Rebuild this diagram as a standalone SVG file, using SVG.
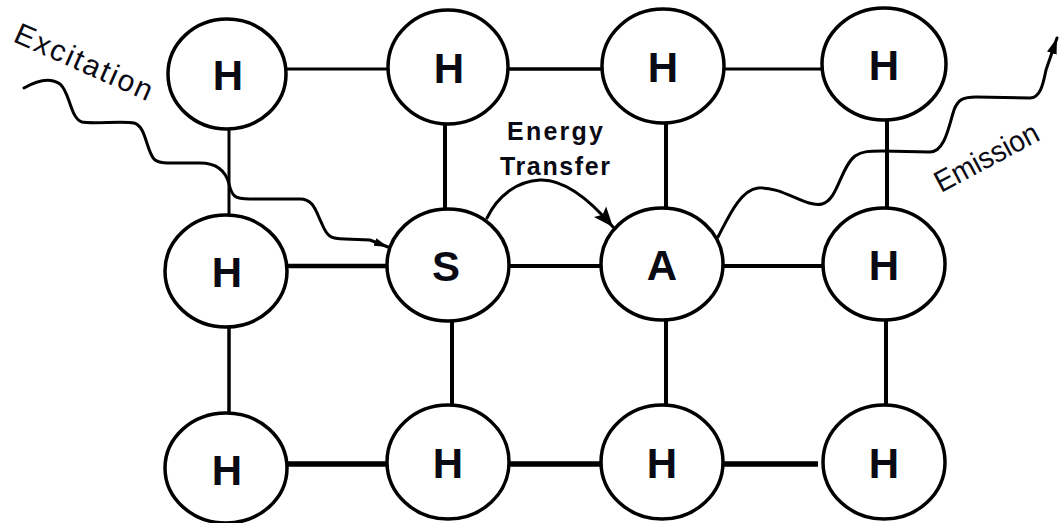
<svg xmlns="http://www.w3.org/2000/svg" width="1059" height="523" viewBox="0 0 1059 523">
<style>
.node ellipse{fill:#fff;stroke:#000;stroke-width:3.5}
.node text{font-family:"Liberation Sans",Arial,sans-serif;font-weight:bold;font-size:42px;text-anchor:middle;fill:#0a0a14}
.bond{stroke:#000;fill:none}
.wave{stroke:#000;stroke-width:3;fill:none;stroke-linecap:round}
.lbl{font-family:"Liberation Sans",Arial,sans-serif;fill:#0a0a14}
</style>
<defs>
<marker id="ahSmall" markerUnits="userSpaceOnUse" markerWidth="16" markerHeight="10" refX="14" refY="5" orient="auto">
<path d="M0,1 L14,5 L0,9 Z" fill="#000"/>
</marker>
<marker id="ahBig" markerUnits="userSpaceOnUse" markerWidth="22" markerHeight="18" refX="20" refY="9" orient="auto">
<path d="M0,1 L20,9 L0,17 L4,9 Z" fill="#000"/>
</marker>
<marker id="ahEm" markerUnits="userSpaceOnUse" markerWidth="18" markerHeight="12" refX="16" refY="6" orient="auto">
<path d="M0,1 L16,6 L0,11 Z" fill="#000"/>
</marker>
</defs>
<rect width="1059" height="523" fill="#fff"/>
<g id="connectors">
<line class="bond" stroke-width="3" x1="286" y1="69" x2="390" y2="69"/>
<line class="bond" stroke-width="3.5" x1="507" y1="69" x2="603" y2="69"/>
<line class="bond" stroke-width="3" x1="724" y1="69" x2="823" y2="69"/>
<line class="bond" stroke-width="3" x1="229" y1="128" x2="229" y2="216"/>
<line class="bond" stroke-width="4" x1="445" y1="123" x2="445" y2="210"/>
<line class="bond" stroke-width="4" x1="666" y1="122" x2="666" y2="209"/>
<line class="bond" stroke-width="4" x1="887" y1="119" x2="887" y2="209"/>
<line class="bond" stroke-width="4.5" x1="287" y1="266" x2="388" y2="266"/>
<line class="bond" stroke-width="4" x1="508" y1="266" x2="602" y2="266"/>
<line class="bond" stroke-width="4" x1="723" y1="266" x2="824" y2="266"/>
<line class="bond" stroke-width="3.5" x1="229" y1="326" x2="229" y2="414"/>
<line class="bond" stroke-width="4" x1="452" y1="320" x2="452" y2="406"/>
<line class="bond" stroke-width="4" x1="666" y1="319" x2="666" y2="406"/>
<line class="bond" stroke-width="4" x1="886" y1="319" x2="886" y2="406"/>
<line class="bond" stroke-width="5.5" x1="286" y1="464" x2="388" y2="464"/>
<line class="bond" stroke-width="5.5" x1="508" y1="464" x2="602" y2="464"/>
<line class="bond" stroke-width="5.5" x1="723" y1="464" x2="818" y2="464"/>
</g>
<g id="node-H11" class="node"><ellipse cx="227" cy="74" rx="59" ry="55"/><text x="228" y="90">H</text></g>
<g id="node-H12" class="node"><ellipse cx="448" cy="67" rx="60" ry="57"/><text x="449" y="83">H</text></g>
<g id="node-H13" class="node"><ellipse cx="663" cy="66" rx="61" ry="57"/><text x="663" y="82">H</text></g>
<g id="node-H14" class="node"><ellipse cx="884" cy="64" rx="62" ry="56"/><text x="884" y="80">H</text></g>
<g id="node-H21" class="node"><ellipse cx="226" cy="271" rx="61" ry="56"/><text x="227" y="287">H</text></g>
<g id="node-S" class="node"><ellipse cx="448" cy="265" rx="61" ry="56"/><text x="446" y="281">S</text></g>
<g id="node-A" class="node"><ellipse cx="662" cy="264" rx="61" ry="56"/><text x="662" y="280">A</text></g>
<g id="node-H24" class="node"><ellipse cx="884" cy="264" rx="61" ry="56"/><text x="884" y="280">H</text></g>
<g id="node-H31" class="node"><ellipse cx="226" cy="468" rx="61" ry="55"/><text x="227" y="485">H</text></g>
<g id="node-H32" class="node"><ellipse cx="448" cy="462" rx="61" ry="57"/><text x="448" y="478">H</text></g>
<g id="node-H33" class="node"><ellipse cx="662" cy="462" rx="61" ry="57"/><text x="662" y="478">H</text></g>
<g id="node-H34" class="node"><ellipse cx="884" cy="462" rx="61" ry="57"/><text x="884" y="478">H</text></g>
<g id="arrows">
<path class="wave" marker-end="url(#ahSmall)" d="M24,88 C36,81 50,77 60,84 C70,92 70,118 82,122 C90,124 125,121 134,123 C146,126 146,150 154,159 C158,164 170,163 200,163 C218,163 226,172 229,184 C232,196 234,199 250,199 L300,199 C314,199 316,212 322,224 C327,236 330,239 345,239 L370,240 L388,247"/>
<path class="wave" marker-end="url(#ahBig)" d="M487,218 C498,195 518,181 540,180 C565,179 590,200 613,227"/>
<path class="wave" marker-end="url(#ahEm)" d="M718,237 C728,218 740,190 758,188 C782,186 806,208 822,204 C838,200 840,168 855,156 C862,151 870,151 882,151 L930,152 C945,152 949,125 954,110 C958,99 964,97 976,97 L1030,98 C1040,98 1043,85 1046,70 L1057,38"/>
</g>
<text class="lbl" font-size="30" textLength="148" lengthAdjust="spacing" transform="translate(12,41) rotate(24)">Excitation</text>
<text class="lbl" font-size="25" font-weight="bold" x="507" y="140" textLength="96" lengthAdjust="spacing">Energy</text>
<text class="lbl" font-size="25" font-weight="bold" x="500" y="175" textLength="110" lengthAdjust="spacing">Transfer</text>
<text class="lbl" font-size="30" textLength="114" lengthAdjust="spacingAndGlyphs" transform="translate(941,193) rotate(-28)">Emission</text>
</svg>
